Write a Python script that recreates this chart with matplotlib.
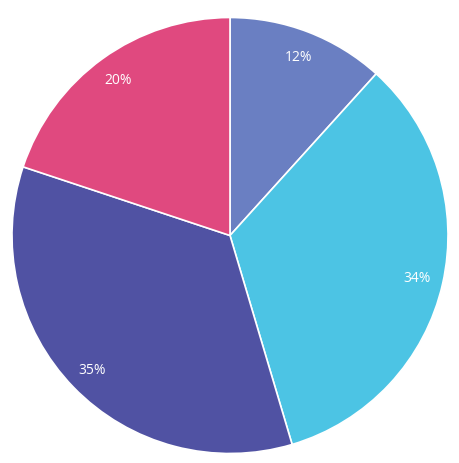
import matplotlib
matplotlib.use("Agg")
import matplotlib.pyplot as plt

labels = ["A", "B", "C", "D"]
values = [11.7, 33.7, 34.7, 19.9]
colors = ["#6a7fc2", "#4cc4e4", "#5052a3", "#e0497f"]

W, H = 459, 464
fig = plt.figure(figsize=(W / 100, H / 100), dpi=100)
cx, cy, r = 230, 236.5, 218
ax = fig.add_axes([(cx - r) / W, (H - cy - r) / H, 2 * r / W, 2 * r / H])
wedges, texts, autotexts = ax.pie(
    values, colors=colors, startangle=90, counterclock=False,
    autopct="%.0f%%", pctdistance=0.88, radius=1,
    wedgeprops=dict(edgecolor="white", linewidth=1.2),
    textprops=dict(color="white", fontsize=10, family="Open Sans"),
)
ax.set_xlim(-1, 1)
ax.set_ylim(-1, 1)
ax.set_aspect("auto")
ax.axis("off")
fig.savefig("out.png", dpi=100)
